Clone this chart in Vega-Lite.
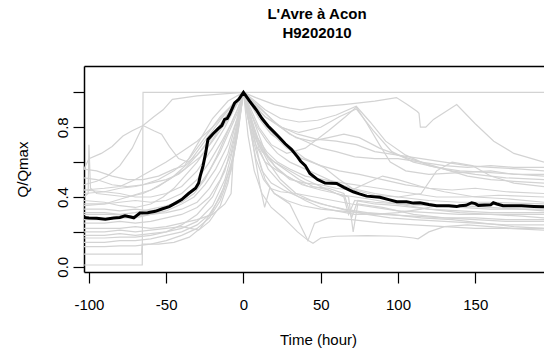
{
"$schema":"https://vega.github.io/schema/vega-lite/v6.json",
"width":460,"height":206,
"autosize":{"type":"none"},
"padding":{"left":84,"top":66,"right":0,"bottom":88},
"background":"white",
"config":{"view":{"stroke":null},"font":"Liberation Sans"},
"title":{"text":["L'Avre à Acon","H9202010"],"fontSize":15,"fontWeight":"bold","color":"black","lineHeight":19,"anchor":"middle","offset":25,"dx":3},
"datasets":{
"gray":[
{"s":1,"t":-103.2,"q":0.01},{"s":1,"t":-65.5,"q":0.01},{"s":1,"t":-65,"q":1.0},{"s":1,"t":194.5,"q":1.0},
{"s":2,"t":-103.2,"q":0.56},{"s":2,"t":-100,"q":0.62},{"s":2,"t":-92,"q":0.65},{"s":2,"t":-85,"q":0.69},{"s":2,"t":-78,"q":0.75},{"s":2,"t":-72,"q":0.78},{"s":2,"t":-65,"q":0.81},{"s":2,"t":-58,"q":0.86},{"s":2,"t":-52,"q":0.9},{"s":2,"t":-46,"q":0.96},{"s":2,"t":-38,"q":0.97},{"s":2,"t":-30,"q":0.98},{"s":2,"t":-15,"q":0.99},{"s":2,"t":0,"q":1.0},{"s":2,"t":8,"q":0.97},{"s":2,"t":20,"q":0.93},{"s":2,"t":30,"q":0.91},{"s":2,"t":37,"q":0.9},{"s":2,"t":47,"q":0.915},{"s":2,"t":65,"q":0.93},{"s":2,"t":85,"q":0.95},{"s":2,"t":99,"q":0.97},{"s":2,"t":106,"q":0.93},{"s":2,"t":112.5,"q":0.89},{"s":2,"t":113.6,"q":0.88},{"s":2,"t":114.5,"q":0.8},{"s":2,"t":118,"q":0.8},{"s":2,"t":123,"q":0.845},{"s":2,"t":138,"q":0.93},{"s":2,"t":150,"q":0.82},{"s":2,"t":162,"q":0.72},{"s":2,"t":175,"q":0.65},{"s":2,"t":194.5,"q":0.6},
{"s":3,"t":-103.2,"q":0.4},{"s":3,"t":-100.5,"q":0.42},{"s":3,"t":-100,"q":0.7},{"s":3,"t":-99,"q":0.45},{"s":3,"t":-95,"q":0.42},{"s":3,"t":-85,"q":0.41},{"s":3,"t":-75,"q":0.4},{"s":3,"t":-65,"q":0.42},{"s":3,"t":-55,"q":0.46},{"s":3,"t":-45,"q":0.52},{"s":3,"t":-35,"q":0.6},{"s":3,"t":-25,"q":0.72},{"s":3,"t":-15,"q":0.84},{"s":3,"t":-7,"q":0.93},{"s":3,"t":0,"q":1.0},{"s":3,"t":4,"q":0.9},{"s":3,"t":9,"q":0.78},{"s":3,"t":14,"q":0.66},{"s":3,"t":20,"q":0.58},{"s":3,"t":28,"q":0.52},{"s":3,"t":38,"q":0.47},{"s":3,"t":50,"q":0.44},{"s":3,"t":65,"q":0.41},{"s":3,"t":80,"q":0.39},{"s":3,"t":100,"q":0.36},{"s":3,"t":120,"q":0.33},{"s":3,"t":140,"q":0.31},{"s":3,"t":160,"q":0.3},{"s":3,"t":180,"q":0.29},{"s":3,"t":194.5,"q":0.28},
{"s":4,"t":-103.2,"q":0.47},{"s":4,"t":-95,"q":0.49},{"s":4,"t":-88,"q":0.52},{"s":4,"t":-80,"q":0.58},{"s":4,"t":-72,"q":0.68},{"s":4,"t":-65,"q":0.81},{"s":4,"t":-58,"q":0.78},{"s":4,"t":-53,"q":0.76},{"s":4,"t":-48,"q":0.69},{"s":4,"t":-42,"q":0.62},{"s":4,"t":-36,"q":0.6},{"s":4,"t":-30,"q":0.64},{"s":4,"t":-22,"q":0.72},{"s":4,"t":-14,"q":0.83},{"s":4,"t":-6,"q":0.93},{"s":4,"t":0,"q":1.0},{"s":4,"t":6,"q":0.96},{"s":4,"t":14,"q":0.9},{"s":4,"t":24,"q":0.85},{"s":4,"t":36,"q":0.83},{"s":4,"t":48,"q":0.84},{"s":4,"t":60,"q":0.87},{"s":4,"t":73,"q":0.92},{"s":4,"t":82,"q":0.83},{"s":4,"t":92,"q":0.72},{"s":4,"t":105,"q":0.64},{"s":4,"t":120,"q":0.58},{"s":4,"t":135,"q":0.55},{"s":4,"t":150,"q":0.53},{"s":4,"t":170,"q":0.51},{"s":4,"t":194.5,"q":0.5},
{"s":5,"t":-103.2,"q":0.56},{"s":5,"t":-95,"q":0.55},{"s":5,"t":-85,"q":0.52},{"s":5,"t":-75,"q":0.5},{"s":5,"t":-65,"q":0.5},{"s":5,"t":-55,"q":0.52},{"s":5,"t":-45,"q":0.56},{"s":5,"t":-38,"q":0.58},{"s":5,"t":-30,"q":0.7},{"s":5,"t":-20,"q":0.85},{"s":5,"t":-10,"q":0.95},{"s":5,"t":0,"q":1.0},{"s":5,"t":6,"q":0.93},{"s":5,"t":14,"q":0.86},{"s":5,"t":25,"q":0.8},{"s":5,"t":35,"q":0.76},{"s":5,"t":48,"q":0.73},{"s":5,"t":60,"q":0.72},{"s":5,"t":73,"q":0.7},{"s":5,"t":85,"q":0.66},{"s":5,"t":100,"q":0.64},{"s":5,"t":115,"q":0.62},{"s":5,"t":130,"q":0.6},{"s":5,"t":145,"q":0.58},{"s":5,"t":160,"q":0.57},{"s":5,"t":180,"q":0.56},{"s":5,"t":194.5,"q":0.55},
{"s":6,"t":-103.2,"q":0.51},{"s":6,"t":-95,"q":0.5},{"s":6,"t":-85,"q":0.47},{"s":6,"t":-75,"q":0.46},{"s":6,"t":-65,"q":0.47},{"s":6,"t":-55,"q":0.5},{"s":6,"t":-45,"q":0.55},{"s":6,"t":-35,"q":0.62},{"s":6,"t":-25,"q":0.74},{"s":6,"t":-15,"q":0.86},{"s":6,"t":-5,"q":0.95},{"s":6,"t":0,"q":1.0},{"s":6,"t":5,"q":0.9},{"s":6,"t":10,"q":0.8},{"s":6,"t":18,"q":0.7},{"s":6,"t":28,"q":0.65},{"s":6,"t":40,"q":0.68},{"s":6,"t":55,"q":0.78},{"s":6,"t":66,"q":0.86},{"s":6,"t":73,"q":0.915},{"s":6,"t":80,"q":0.82},{"s":6,"t":88,"q":0.7},{"s":6,"t":95,"q":0.6},{"s":6,"t":105,"q":0.55},{"s":6,"t":120,"q":0.53},{"s":6,"t":140,"q":0.54},{"s":6,"t":160,"q":0.55},{"s":6,"t":175,"q":0.53},{"s":6,"t":194.5,"q":0.53},
{"s":7,"t":-103.2,"q":0.44},{"s":7,"t":-90,"q":0.43},{"s":7,"t":-80,"q":0.42},{"s":7,"t":-70,"q":0.4},{"s":7,"t":-60,"q":0.4},{"s":7,"t":-50,"q":0.42},{"s":7,"t":-40,"q":0.46},{"s":7,"t":-30,"q":0.55},{"s":7,"t":-20,"q":0.68},{"s":7,"t":-12,"q":0.8},{"s":7,"t":-5,"q":0.92},{"s":7,"t":0,"q":1.0},{"s":7,"t":4,"q":0.94},{"s":7,"t":10,"q":0.85},{"s":7,"t":18,"q":0.76},{"s":7,"t":28,"q":0.7},{"s":7,"t":40,"q":0.62},{"s":7,"t":52,"q":0.57},{"s":7,"t":62,"q":0.5},{"s":7,"t":72,"q":0.44},{"s":7,"t":85,"q":0.41},{"s":7,"t":100,"q":0.4},{"s":7,"t":115,"q":0.42},{"s":7,"t":125,"q":0.55},{"s":7,"t":135,"q":0.6},{"s":7,"t":148,"q":0.58},{"s":7,"t":160,"q":0.52},{"s":7,"t":175,"q":0.48},{"s":7,"t":194.5,"q":0.46},
{"s":8,"t":-103.2,"q":0.36},{"s":8,"t":-90,"q":0.36},{"s":8,"t":-80,"q":0.37},{"s":8,"t":-70,"q":0.38},{"s":8,"t":-60,"q":0.37},{"s":8,"t":-50,"q":0.38},{"s":8,"t":-40,"q":0.42},{"s":8,"t":-30,"q":0.5},{"s":8,"t":-22,"q":0.6},{"s":8,"t":-14,"q":0.72},{"s":8,"t":-8,"q":0.82},{"s":8,"t":-3,"q":0.92},{"s":8,"t":0,"q":1.0},{"s":8,"t":3,"q":0.85},{"s":8,"t":8,"q":0.7},{"s":8,"t":14,"q":0.6},{"s":8,"t":22,"q":0.55},{"s":8,"t":32,"q":0.5},{"s":8,"t":42,"q":0.46},{"s":8,"t":55,"q":0.45},{"s":8,"t":65,"q":0.42},{"s":8,"t":70,"q":0.28},{"s":8,"t":74,"q":0.38},{"s":8,"t":85,"q":0.37},{"s":8,"t":100,"q":0.36},{"s":8,"t":120,"q":0.35},{"s":8,"t":140,"q":0.34},{"s":8,"t":160,"q":0.33},{"s":8,"t":180,"q":0.33},{"s":8,"t":194.5,"q":0.33},
{"s":9,"t":-103.2,"q":0.33},{"s":9,"t":-90,"q":0.33},{"s":9,"t":-80,"q":0.32},{"s":9,"t":-70,"q":0.33},{"s":9,"t":-60,"q":0.32},{"s":9,"t":-50,"q":0.34},{"s":9,"t":-40,"q":0.37},{"s":9,"t":-32,"q":0.42},{"s":9,"t":-25,"q":0.5},{"s":9,"t":-18,"q":0.62},{"s":9,"t":-10,"q":0.78},{"s":9,"t":-4,"q":0.9},{"s":9,"t":0,"q":1.0},{"s":9,"t":4,"q":0.82},{"s":9,"t":8,"q":0.6},{"s":9,"t":11,"q":0.45},{"s":9,"t":13.7,"q":0.34},{"s":9,"t":17,"q":0.45},{"s":9,"t":24,"q":0.43},{"s":9,"t":34,"q":0.42},{"s":9,"t":46,"q":0.4},{"s":9,"t":58,"q":0.38},{"s":9,"t":70,"q":0.36},{"s":9,"t":85,"q":0.34},{"s":9,"t":100,"q":0.32},{"s":9,"t":120,"q":0.31},{"s":9,"t":140,"q":0.3},{"s":9,"t":160,"q":0.3},{"s":9,"t":194.5,"q":0.3},
{"s":10,"t":-103.2,"q":0.3},{"s":10,"t":-85,"q":0.3},{"s":10,"t":-70,"q":0.29},{"s":10,"t":-60,"q":0.3},{"s":10,"t":-50,"q":0.31},{"s":10,"t":-40,"q":0.33},{"s":10,"t":-30,"q":0.37},{"s":10,"t":-22,"q":0.45},{"s":10,"t":-15,"q":0.55},{"s":10,"t":-10,"q":0.65},{"s":10,"t":-5,"q":0.82},{"s":10,"t":0,"q":1.0},{"s":10,"t":3,"q":0.9},{"s":10,"t":7,"q":0.75},{"s":10,"t":12,"q":0.66},{"s":10,"t":20,"q":0.6},{"s":10,"t":30,"q":0.55},{"s":10,"t":40,"q":0.5},{"s":10,"t":50,"q":0.46},{"s":10,"t":60,"q":0.42},{"s":10,"t":68,"q":0.4},{"s":10,"t":71,"q":0.2},{"s":10,"t":74,"q":0.36},{"s":10,"t":90,"q":0.34},{"s":10,"t":110,"q":0.3},{"s":10,"t":130,"q":0.28},{"s":10,"t":150,"q":0.27},{"s":10,"t":170,"q":0.26},{"s":10,"t":194.5,"q":0.26},
{"s":11,"t":-103.2,"q":0.25},{"s":11,"t":-90,"q":0.25},{"s":11,"t":-80,"q":0.26},{"s":11,"t":-70,"q":0.25},{"s":11,"t":-60,"q":0.26},{"s":11,"t":-50,"q":0.28},{"s":11,"t":-40,"q":0.3},{"s":11,"t":-30,"q":0.34},{"s":11,"t":-22,"q":0.4},{"s":11,"t":-15,"q":0.5},{"s":11,"t":-8,"q":0.65},{"s":11,"t":-3,"q":0.85},{"s":11,"t":0,"q":1.0},{"s":11,"t":4,"q":0.88},{"s":11,"t":9,"q":0.72},{"s":11,"t":16,"q":0.6},{"s":11,"t":24,"q":0.5},{"s":11,"t":34,"q":0.42},{"s":11,"t":44,"q":0.38},{"s":11,"t":55,"q":0.35},{"s":11,"t":68,"q":0.32},{"s":11,"t":80,"q":0.3},{"s":11,"t":95,"q":0.28},{"s":11,"t":110,"q":0.27},{"s":11,"t":130,"q":0.26},{"s":11,"t":150,"q":0.25},{"s":11,"t":170,"q":0.24},{"s":11,"t":194.5,"q":0.24},
{"s":12,"t":-103.2,"q":0.22},{"s":12,"t":-90,"q":0.22},{"s":12,"t":-80,"q":0.22},{"s":12,"t":-70,"q":0.23},{"s":12,"t":-60,"q":0.22},{"s":12,"t":-50,"q":0.23},{"s":12,"t":-40,"q":0.25},{"s":12,"t":-30,"q":0.27},{"s":12,"t":-20,"q":0.3},{"s":12,"t":-12,"q":0.36},{"s":12,"t":-8,"q":0.42},{"s":12,"t":-6.8,"q":0.6},{"s":12,"t":-4,"q":0.8},{"s":12,"t":0,"q":1.0},{"s":12,"t":3,"q":0.85},{"s":12,"t":7,"q":0.7},{"s":12,"t":12,"q":0.55},{"s":12,"t":18,"q":0.48},{"s":12,"t":26,"q":0.44},{"s":12,"t":36,"q":0.4},{"s":12,"t":50,"q":0.36},{"s":12,"t":65,"q":0.33},{"s":12,"t":80,"q":0.31},{"s":12,"t":95,"q":0.3},{"s":12,"t":115,"q":0.28},{"s":12,"t":135,"q":0.27},{"s":12,"t":155,"q":0.25},{"s":12,"t":175,"q":0.23},{"s":12,"t":194.5,"q":0.22},
{"s":13,"t":-103.2,"q":0.2},{"s":13,"t":-90,"q":0.2},{"s":13,"t":-80,"q":0.21},{"s":13,"t":-70,"q":0.2},{"s":13,"t":-60,"q":0.21},{"s":13,"t":-50,"q":0.22},{"s":13,"t":-40,"q":0.23},{"s":13,"t":-29,"q":0.21},{"s":13,"t":-22,"q":0.26},{"s":13,"t":-15,"q":0.35},{"s":13,"t":-10,"q":0.48},{"s":13,"t":-5,"q":0.7},{"s":13,"t":0,"q":1.0},{"s":13,"t":4,"q":0.8},{"s":13,"t":8,"q":0.62},{"s":13,"t":13,"q":0.5},{"s":13,"t":20,"q":0.42},{"s":13,"t":30,"q":0.36},{"s":13,"t":41.7,"q":0.15},{"s":13,"t":46,"q":0.25},{"s":13,"t":55,"q":0.28},{"s":13,"t":70,"q":0.27},{"s":13,"t":90,"q":0.25},{"s":13,"t":110,"q":0.24},{"s":13,"t":130,"q":0.23},{"s":13,"t":150,"q":0.22},{"s":13,"t":170,"q":0.22},{"s":13,"t":194.5,"q":0.21},
{"s":14,"t":-103.2,"q":0.18},{"s":14,"t":-90,"q":0.18},{"s":14,"t":-80,"q":0.19},{"s":14,"t":-70,"q":0.18},{"s":14,"t":-60,"q":0.19},{"s":14,"t":-50,"q":0.2},{"s":14,"t":-40,"q":0.22},{"s":14,"t":-30,"q":0.26},{"s":14,"t":-20,"q":0.35},{"s":14,"t":-12,"q":0.5},{"s":14,"t":-6,"q":0.7},{"s":14,"t":0,"q":1.0},{"s":14,"t":3,"q":0.75},{"s":14,"t":7,"q":0.55},{"s":14,"t":12,"q":0.42},{"s":14,"t":18,"q":0.34},{"s":14,"t":26,"q":0.28},{"s":14,"t":35,"q":0.2},{"s":14,"t":42,"q":0.15},{"s":14,"t":45,"q":0.135},{"s":14,"t":50,"q":0.165},{"s":14,"t":60,"q":0.175},{"s":14,"t":80,"q":0.178},{"s":14,"t":100,"q":0.175},{"s":14,"t":110,"q":0.165},{"s":14,"t":113,"q":0.16},{"s":14,"t":120,"q":0.2},{"s":14,"t":130,"q":0.23},{"s":14,"t":145,"q":0.24},{"s":14,"t":160,"q":0.23},{"s":14,"t":175,"q":0.22},{"s":14,"t":194.5,"q":0.22},
{"s":15,"t":-103.2,"q":0.165},{"s":15,"t":-90,"q":0.165},{"s":15,"t":-80,"q":0.17},{"s":15,"t":-70,"q":0.17},{"s":15,"t":-60,"q":0.18},{"s":15,"t":-50,"q":0.2},{"s":15,"t":-40,"q":0.24},{"s":15,"t":-30,"q":0.3},{"s":15,"t":-20,"q":0.4},{"s":15,"t":-12,"q":0.55},{"s":15,"t":-6,"q":0.75},{"s":15,"t":0,"q":1.0},{"s":15,"t":5,"q":0.85},{"s":15,"t":10,"q":0.72},{"s":15,"t":16,"q":0.62},{"s":15,"t":22,"q":0.56},{"s":15,"t":30,"q":0.5},{"s":15,"t":40,"q":0.48},{"s":15,"t":50,"q":0.47},{"s":15,"t":60,"q":0.45},{"s":15,"t":70,"q":0.44},{"s":15,"t":80,"q":0.48},{"s":15,"t":90,"q":0.52},{"s":15,"t":100,"q":0.5},{"s":15,"t":115,"q":0.46},{"s":15,"t":130,"q":0.43},{"s":15,"t":150,"q":0.4},{"s":15,"t":170,"q":0.39},{"s":15,"t":194.5,"q":0.37},
{"s":16,"t":-103.2,"q":0.14},{"s":16,"t":-90,"q":0.14},{"s":16,"t":-80,"q":0.15},{"s":16,"t":-70,"q":0.15},{"s":16,"t":-60,"q":0.16},{"s":16,"t":-50,"q":0.18},{"s":16,"t":-40,"q":0.2},{"s":16,"t":-30,"q":0.24},{"s":16,"t":-22,"q":0.3},{"s":16,"t":-15,"q":0.4},{"s":16,"t":-9,"q":0.55},{"s":16,"t":-4,"q":0.75},{"s":16,"t":0,"q":1.0},{"s":16,"t":4,"q":0.86},{"s":16,"t":9,"q":0.74},{"s":16,"t":15,"q":0.66},{"s":16,"t":22,"q":0.6},{"s":16,"t":30,"q":0.56},{"s":16,"t":40,"q":0.52},{"s":16,"t":52,"q":0.5},{"s":16,"t":65,"q":0.48},{"s":16,"t":80,"q":0.46},{"s":16,"t":95,"q":0.44},{"s":16,"t":110,"q":0.42},{"s":16,"t":125,"q":0.4},{"s":16,"t":145,"q":0.4},{"s":16,"t":165,"q":0.41},{"s":16,"t":194.5,"q":0.4},
{"s":17,"t":-103.2,"q":0.115},{"s":17,"t":-90,"q":0.115},{"s":17,"t":-80,"q":0.12},{"s":17,"t":-70,"q":0.12},{"s":17,"t":-60,"q":0.13},{"s":17,"t":-50,"q":0.15},{"s":17,"t":-40,"q":0.18},{"s":17,"t":-30,"q":0.22},{"s":17,"t":-22,"q":0.28},{"s":17,"t":-15,"q":0.38},{"s":17,"t":-8,"q":0.55},{"s":17,"t":-3,"q":0.8},{"s":17,"t":0,"q":1.0},{"s":17,"t":5,"q":0.82},{"s":17,"t":10,"q":0.68},{"s":17,"t":16,"q":0.56},{"s":17,"t":24,"q":0.48},{"s":17,"t":32,"q":0.42},{"s":17,"t":40,"q":0.38},{"s":17,"t":50,"q":0.34},{"s":17,"t":60,"q":0.32},{"s":17,"t":72,"q":0.3},{"s":17,"t":85,"q":0.3},{"s":17,"t":100,"q":0.31},{"s":17,"t":115,"q":0.33},{"s":17,"t":125,"q":0.35},{"s":17,"t":140,"q":0.35},{"s":17,"t":160,"q":0.34},{"s":17,"t":180,"q":0.33},{"s":17,"t":194.5,"q":0.32},
{"s":18,"t":-103.2,"q":0.073},{"s":18,"t":-80,"q":0.073},{"s":18,"t":-66,"q":0.073},{"s":18,"t":-65.5,"q":0.13},{"s":18,"t":-55,"q":0.13},{"s":18,"t":-45,"q":0.14},{"s":18,"t":-35,"q":0.17},{"s":18,"t":-28,"q":0.22},{"s":18,"t":-20,"q":0.32},{"s":18,"t":-13,"q":0.45},{"s":18,"t":-7,"q":0.62},{"s":18,"t":-3,"q":0.82},{"s":18,"t":0,"q":1.0},{"s":18,"t":4,"q":0.9},{"s":18,"t":9,"q":0.8},{"s":18,"t":15,"q":0.72},{"s":18,"t":22,"q":0.65},{"s":18,"t":30,"q":0.6},{"s":18,"t":40,"q":0.56},{"s":18,"t":50,"q":0.52},{"s":18,"t":60,"q":0.48},{"s":18,"t":70,"q":0.45},{"s":18,"t":85,"q":0.42},{"s":18,"t":100,"q":0.4},{"s":18,"t":120,"q":0.38},{"s":18,"t":140,"q":0.37},{"s":18,"t":160,"q":0.37},{"s":18,"t":194.5,"q":0.36},
{"s":19,"t":-103.2,"q":0.38},{"s":19,"t":-90,"q":0.37},{"s":19,"t":-80,"q":0.35},{"s":19,"t":-70,"q":0.34},{"s":19,"t":-60,"q":0.36},{"s":19,"t":-52,"q":0.4},{"s":19,"t":-45,"q":0.45},{"s":19,"t":-38,"q":0.52},{"s":19,"t":-30,"q":0.6},{"s":19,"t":-22,"q":0.7},{"s":19,"t":-15,"q":0.8},{"s":19,"t":-8,"q":0.9},{"s":19,"t":0,"q":1.0},{"s":19,"t":5,"q":0.93},{"s":19,"t":12,"q":0.84},{"s":19,"t":20,"q":0.75},{"s":19,"t":28,"q":0.68},{"s":19,"t":38,"q":0.62},{"s":19,"t":50,"q":0.58},{"s":19,"t":62,"q":0.55},{"s":19,"t":75,"q":0.53},{"s":19,"t":90,"q":0.5},{"s":19,"t":105,"q":0.47},{"s":19,"t":120,"q":0.45},{"s":19,"t":135,"q":0.44},{"s":19,"t":150,"q":0.45},{"s":19,"t":170,"q":0.43},{"s":19,"t":194.5,"q":0.42},
{"s":20,"t":-103.2,"q":0.27},{"s":20,"t":-90,"q":0.27},{"s":20,"t":-80,"q":0.28},{"s":20,"t":-70,"q":0.28},{"s":20,"t":-60,"q":0.3},{"s":20,"t":-50,"q":0.32},{"s":20,"t":-40,"q":0.36},{"s":20,"t":-32,"q":0.4},{"s":20,"t":-25,"q":0.47},{"s":20,"t":-18,"q":0.56},{"s":20,"t":-10,"q":0.7},{"s":20,"t":-4,"q":0.85},{"s":20,"t":0,"q":1.0},{"s":20,"t":3,"q":0.9},{"s":20,"t":6,"q":0.78},{"s":20,"t":10,"q":0.62},{"s":20,"t":14,"q":0.5},{"s":20,"t":20,"q":0.42},{"s":20,"t":28,"q":0.38},{"s":20,"t":38,"q":0.35},{"s":20,"t":50,"q":0.33},{"s":20,"t":62,"q":0.32},{"s":20,"t":75,"q":0.31},{"s":20,"t":90,"q":0.3},{"s":20,"t":110,"q":0.29},{"s":20,"t":130,"q":0.28},{"s":20,"t":150,"q":0.28},{"s":20,"t":170,"q":0.27},{"s":20,"t":194.5,"q":0.27},
{"s":21,"t":-103.2,"q":0.42},{"s":21,"t":-90,"q":0.43},{"s":21,"t":-80,"q":0.45},{"s":21,"t":-70,"q":0.46},{"s":21,"t":-60,"q":0.48},{"s":21,"t":-50,"q":0.5},{"s":21,"t":-42,"q":0.53},{"s":21,"t":-35,"q":0.58},{"s":21,"t":-28,"q":0.63},{"s":21,"t":-20,"q":0.72},{"s":21,"t":-12,"q":0.82},{"s":21,"t":-5,"q":0.92},{"s":21,"t":0,"q":1.0},{"s":21,"t":5,"q":0.96},{"s":21,"t":12,"q":0.9},{"s":21,"t":20,"q":0.83},{"s":21,"t":30,"q":0.76},{"s":21,"t":40,"q":0.72},{"s":21,"t":50,"q":0.68},{"s":21,"t":60,"q":0.66},{"s":21,"t":72,"q":0.63},{"s":21,"t":85,"q":0.62},{"s":21,"t":100,"q":0.62},{"s":21,"t":115,"q":0.6},{"s":21,"t":130,"q":0.58},{"s":21,"t":145,"q":0.57},{"s":21,"t":160,"q":0.58},{"s":21,"t":175,"q":0.57},{"s":21,"t":194.5,"q":0.57},
{"s":22,"t":-103.2,"q":0.31},{"s":22,"t":-90,"q":0.31},{"s":22,"t":-80,"q":0.3},{"s":22,"t":-70,"q":0.31},{"s":22,"t":-60,"q":0.33},{"s":22,"t":-50,"q":0.35},{"s":22,"t":-40,"q":0.38},{"s":22,"t":-30,"q":0.45},{"s":22,"t":-22,"q":0.55},{"s":22,"t":-15,"q":0.66},{"s":22,"t":-8,"q":0.8},{"s":22,"t":-3,"q":0.9},{"s":22,"t":0,"q":1.0},{"s":22,"t":4,"q":0.88},{"s":22,"t":8,"q":0.76},{"s":22,"t":13,"q":0.66},{"s":22,"t":20,"q":0.6},{"s":22,"t":28,"q":0.55},{"s":22,"t":36,"q":0.5},{"s":22,"t":45,"q":0.46},{"s":22,"t":55,"q":0.44},{"s":22,"t":65,"q":0.4},{"s":22,"t":68,"q":0.3},{"s":22,"t":72,"q":0.38},{"s":22,"t":85,"q":0.36},{"s":22,"t":100,"q":0.35},{"s":22,"t":120,"q":0.33},{"s":22,"t":140,"q":0.32},{"s":22,"t":160,"q":0.31},{"s":22,"t":194.5,"q":0.31},
{"s":23,"t":-103.2,"q":0.44},{"s":23,"t":-90,"q":0.45},{"s":23,"t":-80,"q":0.46},{"s":23,"t":-70,"q":0.5},{"s":23,"t":-60,"q":0.55},{"s":23,"t":-50,"q":0.6},{"s":23,"t":-40,"q":0.66},{"s":23,"t":-30,"q":0.72},{"s":23,"t":-20,"q":0.8},{"s":23,"t":-10,"q":0.9},{"s":23,"t":0,"q":1.0},{"s":23,"t":6,"q":0.95},{"s":23,"t":14,"q":0.88},{"s":23,"t":24,"q":0.8},{"s":23,"t":34,"q":0.74},{"s":23,"t":44,"q":0.72},{"s":23,"t":55,"q":0.74},{"s":23,"t":65,"q":0.76},{"s":23,"t":75,"q":0.74},{"s":23,"t":88,"q":0.68},{"s":23,"t":100,"q":0.64},{"s":23,"t":115,"q":0.6},{"s":23,"t":130,"q":0.56},{"s":23,"t":145,"q":0.52},{"s":23,"t":160,"q":0.5},{"s":23,"t":175,"q":0.49},{"s":23,"t":194.5,"q":0.48},
{"s":24,"t":-103.2,"q":0.35},{"s":24,"t":-90,"q":0.36},{"s":24,"t":-75,"q":0.4},{"s":24,"t":-60,"q":0.44},{"s":24,"t":-48,"q":0.5},{"s":24,"t":-38,"q":0.56},{"s":24,"t":-28,"q":0.66},{"s":24,"t":-18,"q":0.78},{"s":24,"t":-8,"q":0.9},{"s":24,"t":0,"q":1.0},{"s":24,"t":6,"q":0.94},{"s":24,"t":14,"q":0.86},{"s":24,"t":24,"q":0.8},{"s":24,"t":36,"q":0.77},{"s":24,"t":50,"q":0.8},{"s":24,"t":62,"q":0.86},{"s":24,"t":73,"q":0.905},{"s":24,"t":84,"q":0.78},{"s":24,"t":96,"q":0.66},{"s":24,"t":110,"q":0.6},{"s":24,"t":125,"q":0.57},{"s":24,"t":140,"q":0.55},{"s":24,"t":160,"q":0.54},{"s":24,"t":194.5,"q":0.52}
],
"mean":[
{"t":-103.2,"q":0.283},{"t":-100,"q":0.28},{"t":-95,"q":0.278},{"t":-89.4,"q":0.272},{"t":-84,"q":0.28},{"t":-80,"q":0.283},{"t":-76.7,"q":0.292},{"t":-73,"q":0.285},{"t":-71,"q":0.28},{"t":-67,"q":0.308},{"t":-62,"q":0.31},{"t":-57,"q":0.318},{"t":-52.8,"q":0.331},{"t":-48,"q":0.345},{"t":-44,"q":0.365},{"t":-40,"q":0.385},{"t":-35.5,"q":0.42},{"t":-31,"q":0.45},{"t":-29,"q":0.48},{"t":-28,"q":0.52},{"t":-26.2,"q":0.577},{"t":-24.5,"q":0.65},{"t":-23,"q":0.73},{"t":-20,"q":0.76},{"t":-16.5,"q":0.79},{"t":-14,"q":0.81},{"t":-12.2,"q":0.845},{"t":-10.5,"q":0.85},{"t":-9,"q":0.874},{"t":-5.7,"q":0.94},{"t":-3,"q":0.96},{"t":0,"q":1.0},{"t":4,"q":0.95},{"t":8.3,"q":0.9},{"t":12,"q":0.85},{"t":15.9,"q":0.807},{"t":19.5,"q":0.775},{"t":23.4,"q":0.74},{"t":27,"q":0.705},{"t":31,"q":0.673},{"t":35,"q":0.63},{"t":37,"q":0.605},{"t":40,"q":0.58},{"t":43,"q":0.535},{"t":48,"q":0.5},{"t":52.8,"q":0.48},{"t":60.3,"q":0.478},{"t":65,"q":0.455},{"t":71,"q":0.43},{"t":75,"q":0.418},{"t":79.7,"q":0.405},{"t":88.3,"q":0.398},{"t":94,"q":0.385},{"t":99.2,"q":0.373},{"t":105.6,"q":0.373},{"t":110,"q":0.365},{"t":114.2,"q":0.367},{"t":120,"q":0.357},{"t":125,"q":0.35},{"t":133,"q":0.35},{"t":138,"q":0.345},{"t":140,"q":0.35},{"t":144,"q":0.352},{"t":147.7,"q":0.367},{"t":150,"q":0.362},{"t":152,"q":0.352},{"t":160,"q":0.355},{"t":161.7,"q":0.367},{"t":164,"q":0.36},{"t":168,"q":0.35},{"t":180,"q":0.35},{"t":188,"q":0.346},{"t":194.5,"q":0.344}
]
},
"encoding":{
"y":{"field":"q","type":"quantitative","scale":{"domain":[-0.03,1.151],"nice":false,"zero":false},
"axis":{"values":[0,0.2,0.4,0.6,0.8,1],"labelExpr":"datum.value==0?'0.0':datum.value==0.4?'0.4':datum.value==0.8?'0.8':''","labelAngle":-90,"labelAlign":"center","labelBaseline":"middle","tickSize":11,"labelPadding":11,"labelFlush":false,"labelOverlap":false,"title":"Q/Qmax","titleAngle":-90,"titleX":-62,"titleY":103,"titleAlign":"center","titleBaseline":"middle","grid":false,"domainColor":"black","tickColor":"black","labelColor":"black","titleColor":"black","labelFontSize":15,"titleFontSize":15,"titleFontWeight":"normal","domainWidth":1.5,"tickWidth":1.2}}
},
"layer":[
{"data":{"name":"gray"},"mark":{"type":"line","color":"#D3D3D3","strokeWidth":1.2,"clip":true},
"encoding":{"x":{"field":"t","type":"quantitative","scale":{"domain":[-103.2,194.5],"nice":false,"zero":false},
"axis":{"orient":"bottom","values":[-100,-50,0,50,100,150],"labelExpr":"''+datum.value","tickSize":11,"labelPadding":14,"labelBaseline":"top","labelFlush":false,"labelOverlap":false,"title":"Time (hour)","titleX":234,"titleY":67,"titleAlign":"center","titleBaseline":"middle","grid":false,"domainColor":"black","tickColor":"black","labelColor":"black","titleColor":"black","labelFontSize":15,"titleFontSize":15,"titleFontWeight":"normal","domainWidth":1.5,"tickWidth":1.2}},
"detail":{"field":"s","type":"nominal"}}},
{"data":{"name":"mean"},"mark":{"type":"line","color":"black","strokeWidth":3,"clip":true},
"encoding":{"x":{"field":"t","type":"quantitative","axis":{"orient":"top","labels":false,"ticks":false,"title":null,"domain":true,"domainColor":"black","domainWidth":1.5,"grid":false}}}}
],
"resolve":{"axis":{"x":"independent"}}
}
